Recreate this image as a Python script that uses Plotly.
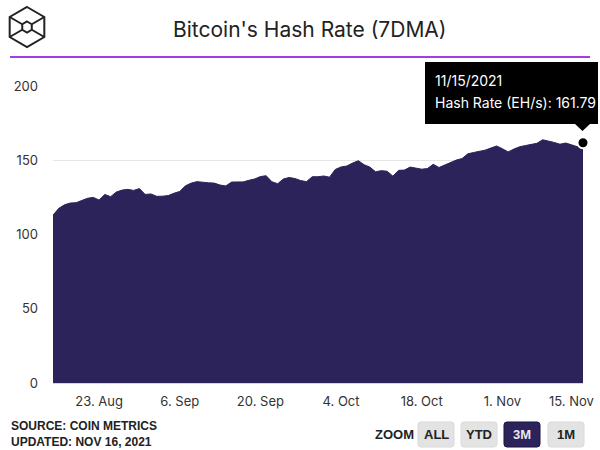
import pandas as pd
import plotly.graph_objects as go

# ---------------- data ----------------
dates = pd.date_range("2021-08-15", "2021-11-15", freq="D")
hash_rate = [
    113.0, 117.6, 120.0, 121.2, 121.4, 122.8, 124.4, 125.0, 123.2, 127.0,
    125.5, 128.6, 129.9, 130.4, 129.7, 130.9, 127.0, 127.3, 125.7, 125.8,
    126.2, 127.8, 129.0, 132.8, 134.6, 135.6, 135.1, 134.8, 134.6, 133.3,
    132.7, 135.3, 135.4, 135.4, 136.5, 137.4, 139.0, 139.6, 135.5, 134.2,
    137.4, 138.4, 137.7, 136.3, 135.6, 138.9, 138.9, 139.4, 138.6, 143.8,
    145.5, 146.1, 148.1, 149.7, 147.0, 145.4, 142.2, 143.0, 142.6, 139.3,
    143.2, 143.4, 145.4, 144.5, 144.0, 144.4, 147.3, 145.1, 146.7, 148.6,
    150.1, 151.1, 154.3, 155.2, 155.9, 156.8, 158.2, 159.6, 157.8, 155.6,
    157.5, 159.1, 159.9, 160.5, 161.4, 163.8, 163.0, 162.0, 160.8, 161.6,
    160.4, 159.1, 161.79,
]
tick_dates = ["2021-08-23", "2021-09-06", "2021-09-20", "2021-10-04",
              "2021-10-18", "2021-11-01", "2021-11-15"]
tick_labels = ["23. Aug", "6. Sep", "20. Sep", "4. Oct", "18. Oct", "1. Nov", "15. Nov"]
y_ticks = [0, 50, 100, 150, 200]

title_text = "Bitcoin's Hash Rate (7DMA)"
series_name = "Hash Rate (EH/s)"
source_lines = ["SOURCE: COIN METRICS", "UPDATED: NOV 16, 2021"]
zoom_buttons = ["ALL", "YTD", "3M", "1M"]
selected_button = "3M"

# ---------------- layout helpers (pixel -> paper) ----------------
W, H = 600, 450
L, R, T, B = 53, 583, 86, 383


def px(X):
    return (X - L) / (R - L)


def py(Y):
    return (B - Y) / (B - T)


def path_from(points, close=True):
    s = "M " + " L ".join(f"{px(x):.5f},{py(y):.5f}" for x, y in points)
    return s + (" Z" if close else "")


def rounded_rect(x0, y0, x1, y1, r):
    return (f"M {px(x0 + r):.5f},{py(y0):.5f} "
            f"L {px(x1 - r):.5f},{py(y0):.5f} Q {px(x1):.5f},{py(y0):.5f} {px(x1):.5f},{py(y0 + r):.5f} "
            f"L {px(x1):.5f},{py(y1 - r):.5f} Q {px(x1):.5f},{py(y1):.5f} {px(x1 - r):.5f},{py(y1):.5f} "
            f"L {px(x0 + r):.5f},{py(y1):.5f} Q {px(x0):.5f},{py(y1):.5f} {px(x0):.5f},{py(y1 - r):.5f} "
            f"L {px(x0):.5f},{py(y0 + r):.5f} Q {px(x0):.5f},{py(y0):.5f} {px(x0 + r):.5f},{py(y0):.5f} Z")


NAVY = "#2b2359"

fig = go.Figure()
fig.add_trace(go.Scatter(
    x=dates, y=hash_rate, mode="lines", fill="tozeroy",
    line=dict(color=NAVY, width=1), fillcolor=NAVY,
    name=series_name, hoverinfo="skip", showlegend=False,
))
fig.add_trace(go.Scatter(
    x=[dates[-1]], y=[hash_rate[-1]], mode="markers",
    marker=dict(size=11, color="black", line=dict(color="white", width=2)),
    cliponaxis=False, hoverinfo="skip", showlegend=False,
))

shapes = []
annotations = []

# title
annotations.append(dict(
    text=title_text, xref="paper", yref="paper", x=px(310), y=py(29),
    xanchor="center", yanchor="middle", showarrow=False,
    font=dict(family="Inter, Roboto, sans-serif", size=21, color="#222222"),
))
# purple rule
shapes.append(dict(type="line", xref="paper", yref="paper",
                   x0=px(10), x1=px(590), y0=py(57), y1=py(57),
                   line=dict(color="#a53ee0", width=2)))

# logo (hexagon cube)
cx, cy, ro, ri = 27, 27, 20, 5.5
k = 0.866
outer = [(cx, cy - ro), (cx + k * ro, cy - ro / 2), (cx + k * ro, cy + ro / 2),
         (cx, cy + ro), (cx - k * ro, cy + ro / 2), (cx - k * ro, cy - ro / 2)]
inner = [(cx, cy - ri), (cx + k * ri, cy - ri / 2), (cx + k * ri, cy + ri / 2),
         (cx, cy + ri), (cx - k * ri, cy + ri / 2), (cx - k * ri, cy - ri / 2)]
logo_line = dict(color="#222222", width=2)
shapes.append(dict(type="path", xref="paper", yref="paper", path=path_from(outer), line=logo_line))
shapes.append(dict(type="path", xref="paper", yref="paper", path=path_from(inner), line=logo_line))
for i in (1, 2, 4, 5):
    shapes.append(dict(type="path", xref="paper", yref="paper",
                       path=path_from([outer[i], inner[i]], close=False), line=logo_line))

# tooltip
shapes.append(dict(type="rect", xref="paper", yref="paper",
                   x0=px(425), x1=px(598), y0=py(124), y1=py(62),
                   fillcolor="black", line=dict(width=0)))
shapes.append(dict(type="path", xref="paper", yref="paper",
                   path=path_from([(574, 123), (591, 123), (582.5, 131)]),
                   fillcolor="black", line=dict(width=0)))
tip_font = dict(family="Inter, Roboto, sans-serif", size=14, color="white")
annotations.append(dict(
    text=dates[-1].strftime("%m/%d/%Y"), xref="paper", yref="paper",
    x=px(433), y=py(80), xanchor="left", yanchor="middle", showarrow=False, font=tip_font))
annotations.append(dict(
    text=f"{series_name}: {hash_rate[-1]:.2f}", xref="paper", yref="paper",
    x=px(433), y=py(103), xanchor="left", yanchor="middle", showarrow=False, font=tip_font))

# last x tick label shifted inside (as the original does)
annotations.append(dict(
    text=tick_labels[-1], xref="x", yref="paper", x=tick_dates[-1], y=py(401),
    xanchor="center", yanchor="middle", xshift=-12, showarrow=False,
    font=dict(family="Inter, Roboto, sans-serif", size=13, color="#333333")))

# source text
src_font = dict(family="Liberation Sans, Arial, sans-serif", size=12, color="#222222")
for i, line in enumerate(source_lines):
    annotations.append(dict(
        text=f"<b>{line}</b>", xref="paper", yref="paper", x=px(9), y=py(426 + 16 * i),
        xanchor="left", yanchor="middle", showarrow=False, font=src_font))

# zoom buttons
annotations.append(dict(
    text="<b>ZOOM</b>", xref="paper", yref="paper", x=px(394), y=py(434),
    xanchor="center", yanchor="middle", showarrow=False,
    font=dict(family="Liberation Sans, Arial, sans-serif", size=13, color="#222222")))
btn_x0 = [418, 461, 504, 548]
btn_w = 36
for bx, label in zip(btn_x0, zoom_buttons):
    sel = label == selected_button
    shapes.append(dict(type="path", xref="paper", yref="paper",
                       path=rounded_rect(bx, 422, bx + btn_w, 447, 3),
                       fillcolor=NAVY if sel else "#e3e3e3",
                       line=dict(color="#1a1540" if sel else "#dadada", width=1)))
    annotations.append(dict(
        text=f"<b>{label}</b>", xref="paper", yref="paper", x=px(bx + btn_w / 2), y=py(434.5),
        xanchor="center", yanchor="middle", showarrow=False,
        font=dict(family="Liberation Sans, Arial, sans-serif", size=13,
                  color="#e8e8f0" if sel else "#222222")))

fig.update_layout(
    width=W, height=H,
    margin=dict(l=L, r=W - R, t=T, b=H - B),
    paper_bgcolor="white", plot_bgcolor="white",
    shapes=shapes, annotations=annotations,
    showlegend=False,
    font=dict(family="Inter, Roboto, sans-serif", color="#333333"),
)
fig.update_xaxes(
    type="date", range=[dates[0], dates[-1]],
    tickvals=tick_dates[:-1], ticktext=tick_labels[:-1],
    showgrid=False, zeroline=False, showline=True, linecolor="#ccd6eb", linewidth=1,
    ticks="", tickfont=dict(family="Inter, Roboto, sans-serif", size=13, color="#333333"),
    ticklabelstandoff=6,
)
fig.update_yaxes(
    range=[0, 200], tickvals=y_ticks, showgrid=True, gridcolor="#e6e6e6",
    zeroline=False, showline=False, ticks="",
    tickfont=dict(family="Inter, Roboto, sans-serif", size=13, color="#333333"),
    ticklabelstandoff=14,
)

fig.write_html(
    "out.html",
    config={"displayModeBar": False},
    post_script="document.body.style.margin='0';document.body.style.overflow='hidden';",
)
